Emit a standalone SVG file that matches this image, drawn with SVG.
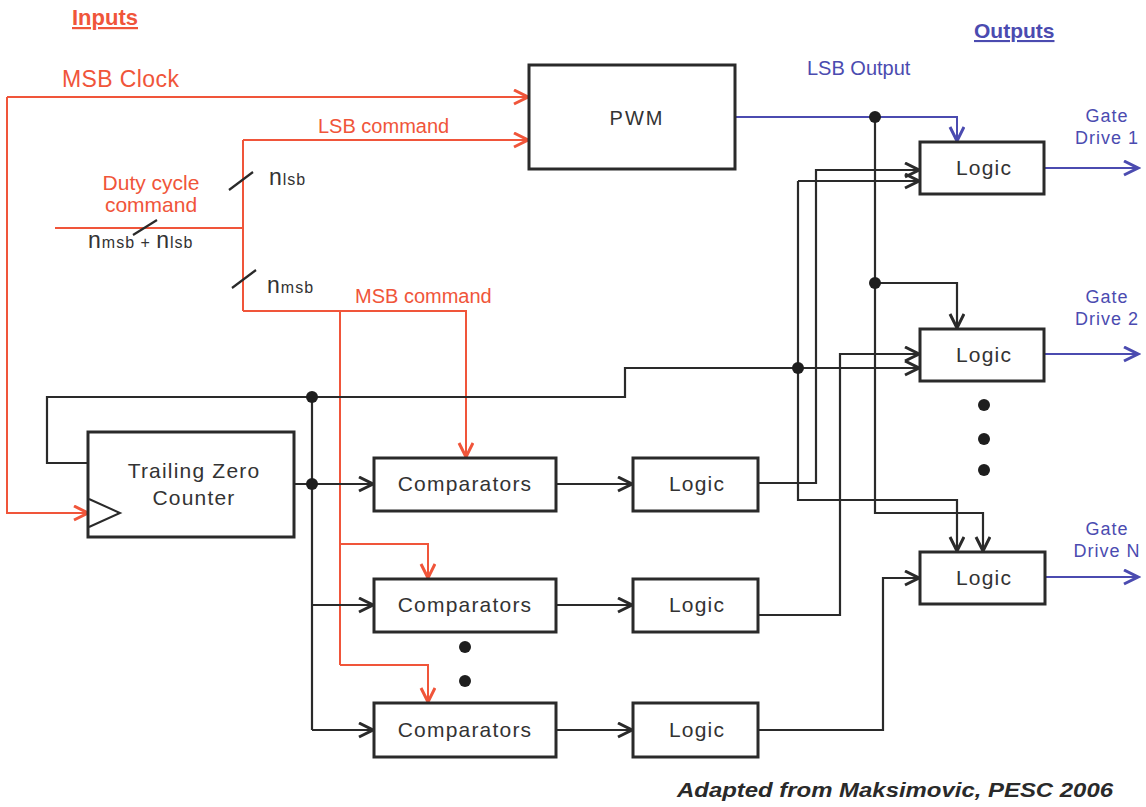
<svg xmlns="http://www.w3.org/2000/svg" width="1146" height="807" viewBox="0 0 1146 807">
<style>
text{font-family:"Liberation Sans",Arial,sans-serif}
.box{fill:#fff;stroke:#2a2a2a;stroke-width:3}
.blk{fill:none;stroke:#2a2a2a;stroke-width:2.2}
.red{fill:none;stroke:#f0553a;stroke-width:2}
.blu{fill:none;stroke:#4b4bb0;stroke-width:2}
.lbl{font-size:21px;fill:#333;letter-spacing:1.2px;text-anchor:middle}
.rt{fill:#f0553a}
.bt{fill:#4b4bb0}
.dot{fill:#1e1e1e}
.n{fill:#333}
.s{font-size:16px;letter-spacing:1px}
</style>
<defs>
<marker id="ak" markerUnits="userSpaceOnUse" markerWidth="18" markerHeight="18" refX="15" refY="8" orient="auto"><path d="M1,1 L15,8 L1,15" fill="none" stroke="#2a2a2a" stroke-width="3"/></marker>
<marker id="ar" markerUnits="userSpaceOnUse" markerWidth="18" markerHeight="18" refX="15" refY="8" orient="auto"><path d="M1,1 L15,8 L1,15" fill="none" stroke="#f0553a" stroke-width="3"/></marker>
<marker id="ab" markerUnits="userSpaceOnUse" markerWidth="18" markerHeight="18" refX="15" refY="8" orient="auto"><path d="M1,1 L15,8 L1,15" fill="none" stroke="#4b4bb0" stroke-width="3"/></marker>
</defs>
<rect width="1146" height="807" fill="#fff"/>

<g id="connectors">
<path class="red" d="M7,97 H528" marker-end="url(#ar)"/>
<path class="red" d="M7,97 V513 H88" marker-end="url(#ar)"/>
<path class="red" d="M55,228 H243"/>
<path class="red" d="M243,140 V311"/>
<path class="red" d="M243,140 H528" marker-end="url(#ar)"/>
<path class="red" d="M243,311 H466 V457" marker-end="url(#ar)"/>
<path class="red" d="M340,311 V665"/>
<path class="red" d="M340,544 H428 V578" marker-end="url(#ar)"/>
<path class="red" d="M340,665 H428 V702" marker-end="url(#ar)"/>
<path class="blk" d="M229,190 L253,172 M232,288 L256,270 M133,235 L157,220" stroke-width="2"/>
<path class="blk" d="M88,463 H47 V397 H625 V368 H798"/>
<path class="blk" d="M798,368 H919" marker-end="url(#ak)"/>
<path class="blk" d="M294,484 H373" marker-end="url(#ak)"/>
<path class="blk" d="M312,397 V730"/>
<path class="blk" d="M312,605 H373" marker-end="url(#ak)"/>
<path class="blk" d="M312,730 H373" marker-end="url(#ak)"/>
<path class="blk" d="M556,484 H632" marker-end="url(#ak)"/>
<path class="blk" d="M556,605 H632" marker-end="url(#ak)"/>
<path class="blk" d="M556,730 H632" marker-end="url(#ak)"/>
<path class="blk" d="M758,483 H816 V170 H919" marker-end="url(#ak)"/>
<path class="blk" d="M758,615 H840 V354 H919" marker-end="url(#ak)"/>
<path class="blk" d="M758,730 H883 V578 H919" marker-end="url(#ak)"/>
<path class="blk" d="M798,181 H919" marker-end="url(#ak)"/>
<path class="blk" d="M798,181 V500 H957 V551" marker-end="url(#ak)"/>
<path class="blu" d="M735,117 H957 V141" marker-end="url(#ab)"/>
<path class="blk" d="M875,117 V513 H983 V551" marker-end="url(#ak)"/>
<path class="blk" d="M875,283 H957 V328" marker-end="url(#ak)"/>
<path class="blu" d="M1044,168 H1138" marker-end="url(#ab)"/>
<path class="blu" d="M1044,354 H1138" marker-end="url(#ab)"/>
<path class="blu" d="M1044,577 H1138" marker-end="url(#ab)"/>
<circle class="dot" cx="312" cy="397" r="6"/>
<circle class="dot" cx="312" cy="484" r="6"/>
<circle class="dot" cx="798" cy="368" r="6"/>
<circle class="dot" cx="875" cy="117" r="6"/>
<circle class="dot" cx="875" cy="283" r="6"/>
</g>

<g id="pwm"><rect class="box" x="529" y="65" width="206" height="104"/><text class="lbl" x="637" y="125" style="font-size:20px;letter-spacing:2px">PWM</text></g>
<g id="counter"><rect class="box" x="88" y="432" width="206" height="105"/><path d="M89,499 L120,513 L89,527" fill="none" stroke="#2a2a2a" stroke-width="2"/><text class="lbl" x="194" y="478">Trailing Zero</text><text class="lbl" x="194" y="505">Counter</text></g>
<g id="comp1"><rect class="box" x="374" y="458" width="182" height="53"/><text class="lbl" x="465" y="491">Comparators</text></g>
<g id="comp2"><rect class="box" x="374" y="579" width="182" height="53"/><text class="lbl" x="465" y="612">Comparators</text></g>
<g id="comp3"><rect class="box" x="374" y="703" width="182" height="54"/><text class="lbl" x="465" y="737">Comparators</text></g>
<g id="logicA"><rect class="box" x="633" y="458" width="125" height="53"/><text class="lbl" x="697" y="491">Logic</text></g>
<g id="logicB"><rect class="box" x="633" y="579" width="125" height="53"/><text class="lbl" x="697" y="612">Logic</text></g>
<g id="logicC"><rect class="box" x="633" y="703" width="125" height="54"/><text class="lbl" x="697" y="737">Logic</text></g>
<g id="logic1"><rect class="box" x="920" y="142" width="124" height="52"/><text class="lbl" x="984" y="175">Logic</text></g>
<g id="logic2"><rect class="box" x="920" y="329" width="124" height="52"/><text class="lbl" x="984" y="362">Logic</text></g>
<g id="logicN"><rect class="box" x="920" y="552" width="125" height="52"/><text class="lbl" x="984" y="585">Logic</text></g>

<g id="ellipses">
<circle class="dot" cx="465" cy="647" r="6"/><circle class="dot" cx="465" cy="681" r="6"/>
<circle class="dot" cx="984" cy="405" r="6"/><circle class="dot" cx="984" cy="439" r="6"/><circle class="dot" cx="984" cy="470" r="6"/>
</g>

<g id="labels">
<text x="72" y="25" class="rt" font-size="22" font-weight="bold" text-decoration="underline">Inputs</text>
<text x="62" y="87" class="rt" font-size="23" letter-spacing="0.4">MSB Clock</text>
<text x="318" y="133" class="rt" font-size="20">LSB command</text>
<text x="355" y="303" class="rt" font-size="20">MSB command</text>
<text x="151" y="190" class="rt" font-size="21" text-anchor="middle">Duty cycle</text>
<text x="151" y="212" class="rt" font-size="21" text-anchor="middle">command</text>
<text x="269" y="185" class="n"><tspan font-size="23">n</tspan><tspan class="s" dx="1">lsb</tspan></text>
<text x="267" y="293" class="n"><tspan font-size="23">n</tspan><tspan class="s" dx="1">msb</tspan></text>
<text x="88" y="248" class="n"><tspan font-size="23">n</tspan><tspan class="s" dx="1">msb + </tspan><tspan font-size="23">n</tspan><tspan class="s" dx="1">lsb</tspan></text>
<text x="974" y="38" class="bt" font-size="21" font-weight="bold" text-decoration="underline">Outputs</text>
<text x="807" y="75" class="bt" font-size="20">LSB Output</text>
<text x="1107" y="122" class="bt" font-size="18" text-anchor="middle" letter-spacing="1">Gate</text>
<text x="1107" y="144" class="bt" font-size="18" text-anchor="middle" letter-spacing="1">Drive 1</text>
<text x="1107" y="303" class="bt" font-size="18" text-anchor="middle" letter-spacing="1">Gate</text>
<text x="1107" y="325" class="bt" font-size="18" text-anchor="middle" letter-spacing="1">Drive 2</text>
<text x="1107" y="535" class="bt" font-size="18" text-anchor="middle" letter-spacing="1">Gate</text>
<text x="1107" y="557" class="bt" font-size="18" text-anchor="middle" letter-spacing="1">Drive N</text>
<text x="677" y="797" fill="#2a2a2a" font-size="20" font-weight="bold" font-style="italic" textLength="436" lengthAdjust="spacingAndGlyphs">Adapted from Maksimovic, PESC 2006</text>
</g>
</svg>
